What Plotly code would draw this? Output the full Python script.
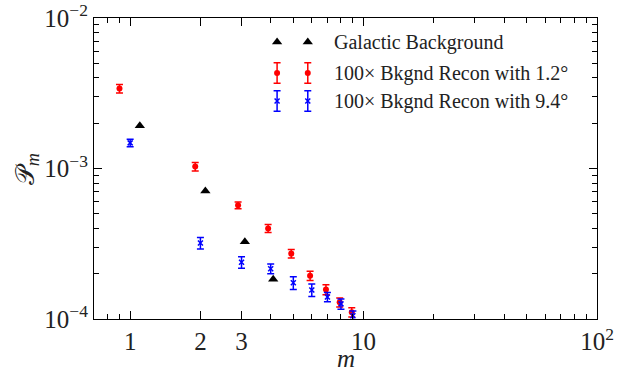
import plotly.graph_objects as go

# Multiplicity index m and probabilities P_m
m_values = [1, 2, 3, 4, 5, 6, 7, 8, 9]

galactic_m = [1, 2, 3, 4]
galactic_P = [1.92e-3, 7.1e-4, 3.26e-4, 1.84e-4]

recon12_P = [3.4e-3, 1.03e-3, 5.7e-4, 4.0e-4, 2.72e-4, 1.94e-4, 1.57e-4, 1.29e-4, 1.11e-4]
recon12_err = [2.2e-4, 6.6e-5, 2.9e-5, 2.4e-5, 1.8e-5, 1.4e-5, 1.2e-5, 9e-6, 8e-6]

recon94_P = [1.48e-3, 3.2e-4, 2.38e-4, 2.16e-4, 1.74e-4, 1.56e-4, 1.40e-4, 1.26e-4, 1.05e-4]
recon94_err = [8.6e-5, 2.8e-5, 2.1e-5, 1.6e-5, 1.7e-5, 1.5e-5, 1.0e-5, 1.0e-5, 8e-6]

legend_labels = [
    "Galactic Background",
    "100× Bkgnd Recon with 1.2°",
    "100× Bkgnd Recon with 9.4°",
]

x_tickvals = [1, 2, 3, 10, 100]
x_ticktext = ["1", "2", "3", "10", "10<sup>2</sup>"]
y_tickvals = [1e-4, 1e-3, 1e-2]
y_ticktext = ["10<sup>−4</sup>", "10<sup>−3</sup>", "10<sup>−2</sup>"]

# horizontal dodge so the three series do not overlap
DODGE = 0.1

FONT = "Liberation Serif"
RED = "#ff0000"
BLUE = "#0000ff"

fig = go.Figure()

fig.add_trace(go.Scatter(
    x=[m + DODGE for m in galactic_m], y=galactic_P, mode="markers",
    marker=dict(symbol="triangle-up", size=9, color="black"),
    showlegend=False,
))
fig.add_trace(go.Scatter(
    x=[m - DODGE for m in m_values], y=recon12_P, mode="markers",
    marker=dict(symbol="circle", size=6, color=RED),
    error_y=dict(type="data", array=recon12_err, color=RED, thickness=1.5, width=3.5),
    showlegend=False,
))
fig.add_trace(go.Scatter(
    x=m_values, y=recon94_P, mode="markers",
    marker=dict(symbol="x-thin-open", size=5, color=BLUE, line=dict(color=BLUE, width=1.5)),
    error_y=dict(type="data", array=recon94_err, color=BLUE, thickness=1.5, width=3.5),
    showlegend=False,
))

# Hand-built legend with two sample keys per entry, drawn on an overlay axis
key_x = [0.364, 0.425]
row_y = [0.920, 0.817, 0.724]
key_err = 0.034
fig.add_trace(go.Scatter(
    x=key_x, y=[row_y[0]] * 2, xaxis="x2", yaxis="y2", mode="markers",
    marker=dict(symbol="triangle-up", size=9, color="black"), showlegend=False,
))
fig.add_trace(go.Scatter(
    x=key_x, y=[row_y[1]] * 2, xaxis="x2", yaxis="y2", mode="markers",
    marker=dict(symbol="circle", size=6, color=RED),
    error_y=dict(type="constant", value=key_err, color=RED, thickness=1.5, width=3.5),
    showlegend=False,
))
fig.add_trace(go.Scatter(
    x=key_x, y=[row_y[2]] * 2, xaxis="x2", yaxis="y2", mode="markers",
    marker=dict(symbol="x-thin-open", size=5, color=BLUE, line=dict(color=BLUE, width=1.5)),
    error_y=dict(type="constant", value=key_err, color=BLUE, thickness=1.5, width=3.5),
    showlegend=False,
))
for label, ry in zip(legend_labels, row_y):
    fig.add_annotation(
        text=label, x=0.473, y=ry, xref="paper", yref="paper",
        xanchor="left", yanchor="middle", showarrow=False,
        font=dict(family=FONT, size=20, color="#222"),
    )

axis_common = dict(
    showline=True, linecolor="black", linewidth=1.2, mirror="ticks",
    ticks="inside", ticklen=8, tickwidth=1.2, tickcolor="black",
    showgrid=False, zeroline=False, automargin=False,
    tickfont=dict(family=FONT, size=25, color="#222"),
)

fig.update_layout(
    width=634, height=375,
    margin=dict(l=94, r=37, t=18, b=56),
    paper_bgcolor="white", plot_bgcolor="white",
    xaxis=dict(
        type="log", range=[-0.154902, 2.0],
        tickmode="array", tickvals=x_tickvals, ticktext=x_ticktext,
        minor=dict(tickmode="array",
                   tickvals=[0.8, 0.9, 4, 5, 6, 7, 8, 9, 20, 30, 40, 50, 60, 70, 80, 90],
                   ticks="inside", ticklen=5, tickwidth=1.2, tickcolor="black", showgrid=False),
        **axis_common,
    ),
    yaxis=dict(
        type="log", range=[-4, -2],
        tickmode="array", tickvals=y_tickvals, ticktext=y_ticktext,
        minor=dict(tickmode="array",
                   tickvals=[k * 1e-4 for k in range(2, 10)] + [k * 1e-3 for k in range(2, 10)],
                   ticks="inside", ticklen=5, tickwidth=1.2, tickcolor="black", showgrid=False),
        **axis_common,
    ),
    xaxis2=dict(overlaying="x", range=[0, 1], visible=False, fixedrange=True),
    yaxis2=dict(overlaying="y", range=[0, 1], visible=False, fixedrange=True),
    showlegend=False,
)

fig.add_annotation(
    text="<i>m</i>", x=0.5, y=-0.13, xref="paper", yref="paper",
    xanchor="center", yanchor="middle", showarrow=False,
    font=dict(family=FONT, size=25, color="#222"),
)
fig.add_annotation(
    text="𝒫<sub><i>m</i></sub>", x=-0.133, y=0.498, xref="paper", yref="paper",
    xanchor="center", yanchor="middle", textangle=-90, showarrow=False,
    font=dict(family=FONT, size=26, color="#222"),
)

fig.write_html("out.html")
